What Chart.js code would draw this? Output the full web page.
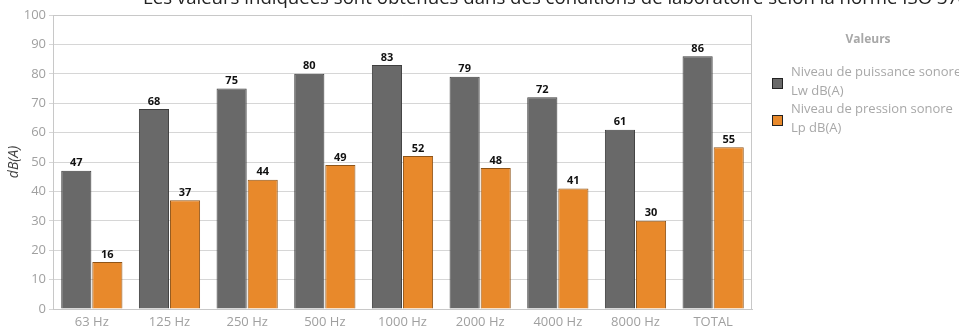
<!DOCTYPE html>
<html>
<head>
<meta charset="utf-8">
<script src="https://cdn.jsdelivr.net/npm/chart.js@4"></script>
<style>
  html, body { margin: 0; padding: 0; background: #fff; }
  #wrap { width: 959px; height: 329px; }
</style>
</head>
<body>
<div id="wrap"><canvas id="canvas" width="959" height="329"></canvas></div>
<script>
const categories = ["63 Hz", "125 Hz", "250 Hz", "500 Hz", "1000 Hz", "2000 Hz", "4000 Hz", "8000 Hz", "TOTAL"];
const lwValues = [47, 68, 75, 80, 83, 79, 72, 61, 86];
const lpValues = [16, 37, 44, 49, 52, 48, 41, 30, 55];
const seriesLabels = [["Niveau de puissance sonore", "Lw dB(A)"], ["Niveau de pression sonore", "Lp dB(A)"]];
const chartTitle = "Les valeurs indiquées sont obtenues dans des conditions de laboratoire selon la norme ISO 3744";
const legendTitle = "Valeurs";
const FONT = "'Open Sans', 'Noto Sans', sans-serif";

// title, cut off at the top like the original
const titlePlugin = {
  id: "topTitle",
  afterDraw(chart) {
    const c = chart.ctx;
    c.save();
    c.font = "18.6px " + FONT;
    c.fillStyle = "#222";
    c.textBaseline = "alphabetic";
    c.fillText(chartTitle, 143, 4);
    c.restore();
  }
};

// value labels above each bar
const valueLabels = {
  id: "valueLabels",
  afterDatasetsDraw(chart) {
    const c = chart.ctx;
    c.save();
    c.font = "bold 11px " + FONT;
    c.fillStyle = "#111";
    c.textAlign = "center";
    c.textBaseline = "bottom";
    chart.data.datasets.forEach((ds, i) => {
      chart.getDatasetMeta(i).data.forEach((bar, j) => {
        c.fillText(ds.data[j], bar.x, bar.y - 2);
      });
    });
    c.restore();
  }
};

// frame around plot area (top and right)
const frame = {
  id: "frame",
  beforeDatasetsDraw(chart) {
    const a = chart.chartArea, c = chart.ctx;
    c.save();
    c.strokeStyle = "#c8c8c8";
    c.lineWidth = 1;
    c.beginPath();
    c.moveTo(a.left, a.top + 0.5);
    c.lineTo(a.right - 0.5, a.top + 0.5);
    c.lineTo(a.right - 0.5, a.bottom);
    c.stroke();
    c.restore();
  }
};

// legend on the right
const sideLegend = {
  id: "sideLegend",
  afterDraw(chart) {
    const c = chart.ctx;
    c.save();
    c.font = "bold 12px " + FONT;
    c.fillStyle = "#a8a8a8";
    c.textAlign = "center";
    c.textBaseline = "middle";
    c.fillText(legendTitle, 868, 40);
    c.font = "13px " + FONT;
    c.textAlign = "left";
    const rows = [72, 109];
    chart.data.datasets.forEach((ds, i) => {
      const y0 = rows[i];
      ds.label.forEach((line, k) => c.fillText(line, 791, y0 + k * 19));
      c.fillStyle = ds.backgroundColor;
      c.fillRect(772.5, y0 + 6.5, 10, 10);
      c.strokeStyle = "#222";
      c.lineWidth = 1;
      c.strokeRect(772.5, y0 + 6.5, 10, 10);
      c.fillStyle = "#a8a8a8";
    });
    c.restore();
  }
};

new Chart(document.getElementById("canvas").getContext("2d"), {
  type: "bar",
  data: {
    labels: categories,
    datasets: [
      {
        label: seriesLabels[0],
        data: lwValues,
        backgroundColor: "#696969",
        borderColor: "#3e3e3e",
        borderWidth: 1,
        barPercentage: 0.97,
        categoryPercentage: 0.8
      },
      {
        label: seriesLabels[1],
        data: lpValues,
        backgroundColor: "#e8892b",
        borderColor: "#8e5418",
        borderWidth: 1,
        barPercentage: 0.97,
        categoryPercentage: 0.8
      }
    ]
  },
  options: {
    responsive: false,
    animation: false,
    layout: { padding: { left: 0, top: 15, right: 207, bottom: 0 } },
    plugins: {
      legend: { display: false },
      tooltip: { enabled: false }
    },
    scales: {
      x: {
        grid: { display: false, drawTicks: false },
        border: { color: "#c8c8c8" },
        ticks: { color: "#a0a0a0", font: { family: FONT, size: 13 }, padding: 5, maxRotation: 0 },
        afterFit(s) { s.height = 20; }
      },
      y: {
        min: 0,
        max: 100,
        ticks: { stepSize: 10, color: "#a0a0a0", font: { family: FONT, size: 13 }, padding: 3 },
        grid: { color: "#d6d6d6", tickLength: 4 },
        border: { color: "#c8c8c8" },
        title: {
          display: true,
          text: "dB(A)",
          color: "#444",
          font: { family: FONT, size: 14, style: "italic" },
          padding: { top: 6, bottom: 0 }
        },
        afterFit(s) { s.width = 53; }
      }
    }
  },
  plugins: [frame, valueLabels, titlePlugin, sideLegend]
});
</script>
</body>
</html>
